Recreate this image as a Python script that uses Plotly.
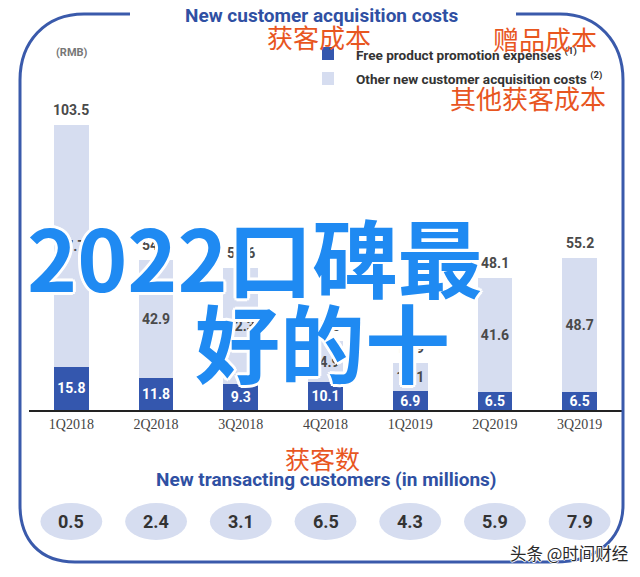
import plotly.graph_objects as go

# ---------------- data ----------------
quarters = ["1Q2018", "2Q2018", "3Q2018", "4Q2018", "1Q2019", "2Q2019", "3Q2019"]
free_product = [15.8, 11.8, 9.3, 10.1, 6.9, 6.5, 6.5]
other_costs = [87.7, 42.9, 42.3, 14.9, 10.1, 41.6, 48.7]
total_labels = [103.5, 54.7, 51.6, 25.0, 16.9, 48.1, 55.2]
new_customers = [0.5, 2.4, 3.1, 6.5, 4.3, 5.9, 7.9]

W, H = 640, 577


def px(x):
    return x / W


def py(y):
    return 1 - y / H


DARK = "#3457ae"
LIGHT = "#d6ddf0"
NAVY = "#2f50a3"
RED = "#e8561f"
COND = "Roboto, sans-serif"
CJK = "Noto Sans CJK SC"

fig = go.Figure()
fig.add_trace(go.Bar(
    x=quarters, y=free_product, name="Free product promotion expenses",
    marker=dict(color=DARK, line=dict(width=0)), width=0.41,
    text=[f"{v:.1f}" for v in free_product], textposition="inside",
    insidetextanchor="middle", textangle=0, constraintext="none",
    textfont=dict(color="white", size=14, family=COND, weight="bold"),
    showlegend=False))
fig.add_trace(go.Bar(
    x=quarters, y=other_costs, name="Other new customer acquisition costs",
    marker=dict(color=LIGHT, line=dict(width=0)), width=0.41,
    text=[f"{v:.1f}" for v in other_costs], textposition="inside",
    insidetextanchor="middle", textangle=0, constraintext="none",
    textfont=dict(color="#4a4a4a", size=14, family=COND, weight="bold"),
    showlegend=False))


def note(x, y, text, font, **kw):
    d = dict(x=x, y=y, xref="paper", yref="paper", text=text, showarrow=False,
             xanchor="center", yanchor="middle", font=font)
    d.update(kw)
    return d


annotations = []
# totals above bars
for i, q in enumerate(quarters):
    annotations.append(dict(
        x=q, y=free_product[i] + other_costs[i], xref="x", yref="y",
        text=f"{total_labels[i]:.1f}", showarrow=False, xanchor="center",
        yanchor="bottom", yshift=5,
        font=dict(size=14, color="#4a4a4a", family=COND, weight="bold")))

# ovals for new customers
shapes = []
for i, q in enumerate(quarters):
    shapes.append(dict(type="circle", xref="x", yref="paper",
                       x0=i - 0.365, x1=i + 0.365, y0=py(540), y1=py(503),
                       fillcolor=LIGHT, line=dict(width=0), layer="below"))
    annotations.append(dict(
        x=q, y=py(521.5), xref="x", yref="paper", text=f"{new_customers[i]:.1f}",
        showarrow=False, xanchor="center", yanchor="middle",
        font=dict(size=18, color="#333333", family=COND, weight="bold")))

# frame
def P(x, y):
    return f"{px(x):.5f},{py(y):.5f}"


frame = (f"M{P(130,14)} L{P(84,14)} C{P(45,14)} {P(20,42)} {P(20,80)} "
         f"L{P(20,505)} C{P(20,540)} {P(40,562)} {P(75,562)} "
         f"L{P(555,562)} C{P(595,562)} {P(623,540)} {P(623,505)} "
         f"L{P(623,80)} C{P(623,42)} {P(598,14)} {P(560,14)} L{P(516,14)}")
shapes.append(dict(type="path", xref="paper", yref="paper", path=frame,
                   line=dict(color="#3a5aab", width=3)))

# legend
shapes.append(dict(type="rect", xref="paper", yref="paper", x0=px(322), x1=px(334),
                   y0=py(60), y1=py(47), fillcolor=DARK, line=dict(width=0)))
shapes.append(dict(type="rect", xref="paper", yref="paper", x0=px(322), x1=px(334),
                   y0=py(85), y1=py(72), fillcolor=LIGHT, line=dict(width=0)))
legfont = dict(size=13.6, color="#333333", family=COND, weight="bold")
annotations += [
    note(px(354), py(54), "Free product promotion expenses <sup>(1)</sup>", legfont,
         xanchor="left"),
    note(px(354), py(78), "Other new customer acquisition costs <sup>(2)</sup>", legfont,
         xanchor="left"),
    note(px(72), py(52), "(RMB)", dict(size=11, color="#777777", family=COND, weight="bold")),
    # titles
    note(px(322), py(16), "New customer acquisition costs",
         dict(size=19, color=NAVY, family=COND, weight="bold"), bgcolor="white"),
    note(px(326), py(479), "New transacting customers (in millions)",
         dict(size=19, color=NAVY, family=COND, weight="bold")),
    # red chinese notes
    note(px(319), py(36), "获客成本", dict(size=26, color=RED, family=CJK)),
    note(px(545), py(39), "赠品成本", dict(size=26, color=RED, family=CJK)),
    note(px(528), py(97), "其他获客成本", dict(size=26, color=RED, family=CJK)),
    note(px(322), py(458), "获客数", dict(size=25, color=RED, family=CJK)),
]

OUTLINE = ("3px 0 #fff, -3px 0 #fff, 0 3px #fff, 0 -3px #fff, "
           "2px 2px #fff, -2px -2px #fff, 2px -2px #fff, -2px 2px #fff")
annotations += [
    note(px(25), py(254), "2022口碑最",
         dict(size=85, color="#1f8af2", family=CJK, weight="bold", shadow=OUTLINE),
         xanchor="left"),
    note(px(193), py(339), "好的十",
         dict(size=85, color="#1f8af2", family=CJK, weight="bold", shadow=OUTLINE),
         xanchor="left"),
    note(px(569), py(553), "头条 @时间财经",
         dict(size=16.5, color="#2a2a2a", family=CJK,
              shadow="1px 0 #fff, -1px 0 #fff, 0 1px #fff, 0 -1px #fff")),
]

fig.update_layout(
    width=W, height=H, barmode="stack",
    margin=dict(l=0, r=0, t=0, b=0),
    paper_bgcolor="white", plot_bgcolor="white",
    xaxis=dict(domain=[px(29), px(622)], range=[-0.5, 6.5], type="category",
               showline=True, linecolor="#222222", linewidth=2,
               showgrid=False, ticks="", zeroline=False,
               tickfont=dict(family="Liberation Serif, serif", size=14, color="#444444")),
    yaxis=dict(domain=[py(410), py(110)], range=[0, 109.1], visible=False),
    shapes=shapes, annotations=annotations,
)

fig.write_html("out.html")
